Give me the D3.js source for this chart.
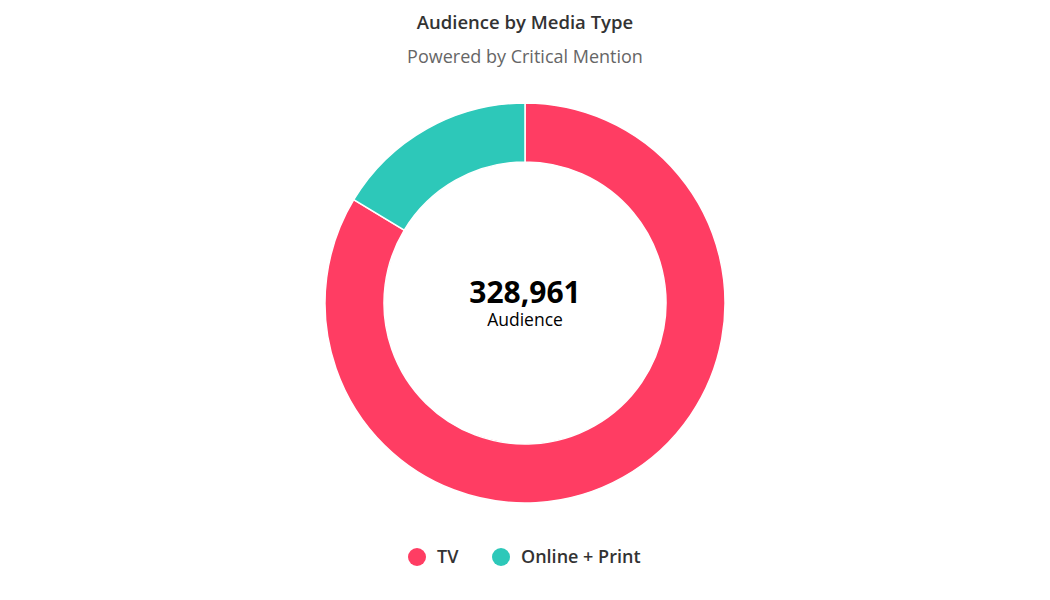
<!DOCTYPE html>
<html><head><meta charset="utf-8">
<script src="https://cdn.jsdelivr.net/npm/d3@7"></script>
<style>body{margin:0;background:#fff;font-family:"Open Sans",sans-serif}</style>
</head><body><svg id="c" width="1050" height="600"></svg>
<script>
const categories = ["TV", "Online + Print"];
const values = [275141, 53820];
const colors = ["#ff3d63", "#2dc8b9"];
const totalLabel = "328,961";

const svg = d3.select("#c");
svg.append("text").attr("x",525).attr("y",29).attr("text-anchor","middle")
  .attr("font-size",18.5).attr("font-weight",600).attr("fill","#333").text("Audience by Media Type");
svg.append("text").attr("x",525).attr("y",63).attr("text-anchor","middle")
  .attr("font-size",18).attr("fill","#666").text("Powered by Critical Mention");

const g = svg.append("g").attr("transform","translate(525,303)");
const pie = d3.pie().sort(null)(values);
const arc = d3.arc().innerRadius(141).outerRadius(200);
g.selectAll("path").data(pie).join("path").attr("d",arc)
  .attr("fill",(d,i)=>colors[i]).attr("stroke","#fff").attr("stroke-width",1.5);
g.append("text").attr("y",0).attr("text-anchor","middle").attr("font-size",30)
  .attr("font-weight",700).attr("fill","#000").text(totalLabel);
g.append("text").attr("y",23).attr("text-anchor","middle").attr("font-size",17.5)
  .attr("fill","#000").text("Audience");

const lx = [417, 501];
const lg = svg.append("g");
categories.forEach((c,i)=>{
  lg.append("circle").attr("cx",lx[i]).attr("cy",557).attr("r",9).attr("fill",colors[i]);
  lg.append("text").attr("x",lx[i]+20).attr("y",563).attr("font-size",18)
    .attr("font-weight",600).attr("fill","#333").text(c);
});
</script></body></html>
